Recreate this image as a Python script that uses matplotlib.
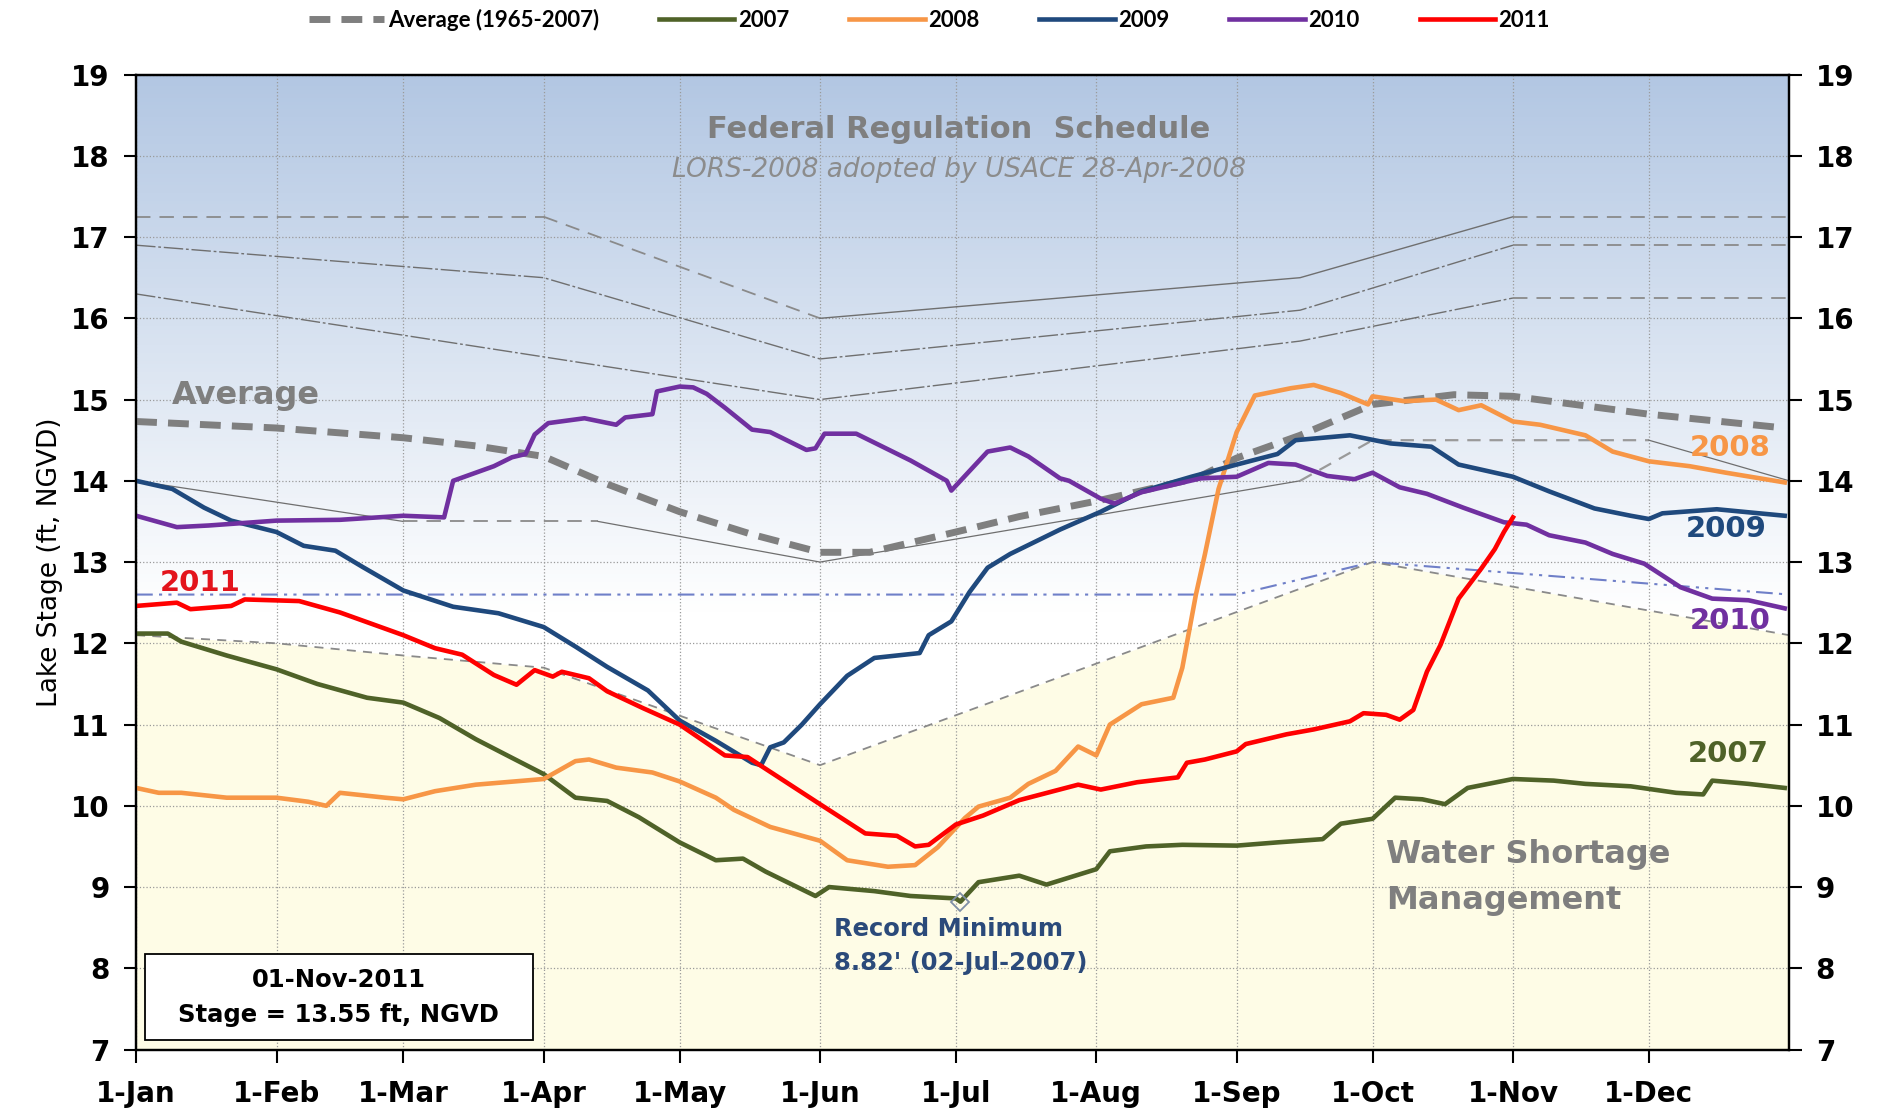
import numpy as np
import matplotlib
matplotlib.use("Agg")
import matplotlib.pyplot as plt
from matplotlib.patches import Rectangle

plt.rcParams['font.family'] = ['DejaVu Sans']

# day of year (0 = 1-Jan) and lake stage (ft, NGVD)
month_days = [0, 31, 59, 90, 120, 151, 181, 212, 243, 273, 304, 334]
month_labels = ["1-Jan", "1-Feb", "1-Mar", "1-Apr", "1-May", "1-Jun",
                "1-Jul", "1-Aug", "1-Sep", "1-Oct", "1-Nov", "1-Dec"]

avg_days = [0, 31, 59, 75, 90, 104, 120, 136, 151, 162, 181, 195, 212, 234, 243, 257, 273, 291, 304, 334, 364]
avg_vals = [14.73, 14.65, 14.53, 14.43, 14.3, 13.96, 13.62, 13.34, 13.12, 13.12, 13.37, 13.56, 13.75, 14.03,
            14.28, 14.56, 14.94, 15.06, 15.04, 14.82, 14.65]

d2007 = [0, 7, 10, 20, 31, 40, 51, 59, 67, 75, 83, 90, 97, 104, 111, 120, 128, 134, 139, 150, 153, 163, 171,
         181, 182, 186, 195, 201, 212, 215, 223, 231, 243, 252, 262, 266, 273, 278, 284, 289, 294, 304, 313,
         320, 330, 340, 346, 348, 356, 364]
v2007 = [12.12, 12.12, 12.02, 11.85, 11.68, 11.5, 11.33, 11.27, 11.08, 10.82, 10.59, 10.39, 10.1, 10.06, 9.86,
         9.55, 9.33, 9.35, 9.19, 8.89, 9.0, 8.95, 8.89, 8.86, 8.82, 9.06, 9.14, 9.03, 9.22, 9.44, 9.5, 9.52,
         9.51, 9.55, 9.59, 9.78, 9.84, 10.1, 10.08, 10.02, 10.22, 10.33, 10.31, 10.27, 10.24, 10.16, 10.14,
         10.31, 10.27, 10.22]

d2008 = [0, 5, 10, 20, 31, 38, 42, 45, 55, 59, 66, 75, 90, 97, 100, 106, 114, 120, 128, 132, 140, 151, 157,
         166, 172, 177, 183, 186, 193, 197, 203, 208, 212, 215, 222, 229, 231, 234, 236, 239, 243, 247, 255,
         260, 266, 272, 273, 280, 287, 292, 297, 304, 310, 320, 326, 334, 343, 351, 364]
v2008 = [10.22, 10.16, 10.16, 10.1, 10.1, 10.05, 10.0, 10.16, 10.1, 10.08, 10.18, 10.26, 10.33, 10.55, 10.57,
         10.47, 10.41, 10.3, 10.1, 9.95, 9.74, 9.57, 9.33, 9.25, 9.27, 9.49, 9.85, 9.99, 10.1, 10.27, 10.43,
         10.73, 10.62, 11.0, 11.25, 11.33, 11.7, 12.6, 13.1, 13.9, 14.6, 15.05, 15.14, 15.18, 15.08, 14.94,
         15.04, 14.98, 15.0, 14.87, 14.93, 14.73, 14.69, 14.56, 14.36, 14.24, 14.18, 14.1, 13.98]

d2009 = [0, 8, 15, 21, 31, 37, 44, 50, 59, 70, 80, 90, 97, 104, 113, 120, 128, 136, 138, 140, 143, 147, 151,
         157, 163, 173, 175, 180, 184, 188, 193, 204, 213, 222, 233, 243, 252, 256, 268, 277, 286, 292, 304,
         312, 322, 330, 334, 337, 349, 364]
v2009 = [14.0, 13.9, 13.67, 13.51, 13.37, 13.2, 13.14, 12.94, 12.65, 12.45, 12.37, 12.2, 11.96, 11.71, 11.42,
         11.05, 10.8, 10.53, 10.5, 10.72, 10.78, 11.0, 11.25, 11.6, 11.82, 11.88, 12.1, 12.27, 12.63, 12.93,
         13.1, 13.4, 13.62, 13.87, 14.05, 14.2, 14.33, 14.5, 14.56, 14.46, 14.42, 14.2, 14.05, 13.87, 13.66,
         13.57, 13.53, 13.6, 13.65, 13.57]

d2010 = [0, 9, 16, 31, 45, 59, 68, 70, 79, 83, 86, 88, 91, 99, 106, 108, 114, 115, 120, 123, 126, 130, 136,
         140, 148, 150, 152, 159, 171, 179, 180, 188, 193, 197, 204, 206, 213, 216, 222, 235, 243, 250, 256,
         263, 269, 273, 279, 285, 293, 302, 307, 312, 320, 326, 333, 341, 348, 356, 364]
v2010 = [13.57, 13.43, 13.45, 13.51, 13.52, 13.57, 13.55, 14.0, 14.18, 14.29, 14.33, 14.57, 14.71, 14.77,
         14.69, 14.78, 14.82, 15.1, 15.16, 15.15, 15.07, 14.9, 14.63, 14.6, 14.38, 14.4, 14.58, 14.58, 14.25,
         14.0, 13.88, 14.36, 14.41, 14.3, 14.03, 14.0, 13.78, 13.72, 13.86, 14.03, 14.05, 14.22, 14.2, 14.06,
         14.02, 14.1, 13.92, 13.84, 13.67, 13.49, 13.46, 13.33, 13.24, 13.1, 12.98, 12.69, 12.55, 12.53, 12.43]

d2011 = [0, 9, 12, 21, 24, 36, 45, 59, 66, 72, 79, 84, 88, 92, 94, 100, 104, 112, 120, 130, 135, 151, 161,
         168, 172, 175, 181, 187, 195, 208, 213, 221, 230, 232, 236, 243, 245, 254, 260, 268, 271, 276, 279,
         282, 285, 288, 292, 297, 300, 302, 304]
v2011 = [12.46, 12.5, 12.42, 12.46, 12.54, 12.52, 12.38, 12.1, 11.94, 11.86, 11.61, 11.49, 11.67, 11.59, 11.65,
         11.57, 11.41, 11.2, 11.0, 10.62, 10.6, 10.02, 9.66, 9.63, 9.5, 9.52, 9.77, 9.88, 10.07, 10.26, 10.2,
         10.29, 10.35, 10.53, 10.57, 10.67, 10.76, 10.88, 10.94, 11.04, 11.14, 11.12, 11.06, 11.18, 11.65,
         11.98, 12.55, 12.92, 13.16, 13.37, 13.55]

# LORS-2008 regulation schedule lines
top_days = [0, 90, 151, 257, 304, 365]
top_vals = [17.25, 17.25, 16.0, 16.5, 17.25, 17.25]
high_days = [0, 90, 151, 257, 304, 365]
high_vals = [16.9, 16.5, 15.5, 16.1, 16.9, 16.9]
inter_days = [0, 151, 257, 304, 365]
inter_vals = [16.3, 15.0, 15.72, 16.25, 16.25]
low_days = [0, 59, 102, 151, 257, 273, 334, 365]
low_vals = [14.0, 13.5, 13.5, 13.0, 14.0, 14.5, 14.5, 14.0]
base_days = [0, 243, 273, 365]
base_vals = [12.6, 12.6, 13.0, 12.6]
short_days = [0, 31, 59, 90, 151, 273, 365]
short_vals = [12.1, 12.0, 11.85, 11.7, 10.5, 13.0, 12.1]

fig = plt.figure(figsize=(18.85, 11.13), dpi=100)
ax = fig.add_axes([0.0722, 0.057, 0.877, 0.876])

# background: blue gradient above, pale yellow below the water shortage line
grad = np.linspace(0, 1, 256).reshape(-1, 1)
top_c = np.array([0.70, 0.78, 0.89])
cols = np.clip(1 - (1 - top_c) * np.clip((grad - 0.45) / 0.55, 0, 1), 0, 1)
img = cols[:, np.newaxis, :]
ax.imshow(img, extent=[0, 365, 7, 19], origin='lower', aspect='auto', zorder=0)
ax.fill_between(short_days, 7, short_vals, color='#FEFCE6', lw=0, zorder=0.5)

ax.set_xlim(0, 365)
ax.set_ylim(7, 19)
ax.set_xticks(month_days)
ax.set_xticklabels(month_labels)
ax.set_yticks(range(7, 20))
ax.grid(True, ls=':', color='#9A9A9A', lw=0.9)

sc = '#8A8A8A'
ax.plot(top_days[:2], top_vals[:2], color=sc, lw=1.3, ls=(0, (8, 5)))
ax.plot(top_days[1:3], top_vals[1:3], color=sc, lw=1.3, ls=(0, (8, 5)))
ax.plot(top_days[2:5], top_vals[2:5], color='#6F6F6F', lw=1.0)
ax.plot(top_days[4:], top_vals[4:], color=sc, lw=1.3, ls=(0, (8, 5)))
ax.plot(high_days[:5], high_vals[:5], color='#6F6F6F', lw=1.0, ls=(0, (14, 2, 2, 2)))
ax.plot(high_days[4:], high_vals[4:], color=sc, lw=1.3, ls=(0, (8, 5)))
ax.plot(inter_days[:4], inter_vals[:4], color='#6F6F6F', lw=1.0, ls=(0, (14, 2, 2, 2)))
ax.plot(inter_days[3:], inter_vals[3:], color=sc, lw=1.3, ls=(0, (8, 5)))
ax.plot(low_days[:2], low_vals[:2], color='#6F6F6F', lw=0.9)
ax.plot(low_days[1:3], low_vals[1:3], color=sc, lw=1.3, ls=(0, (8, 5)))
ax.plot(low_days[2:5], low_vals[2:5], color='#6F6F6F', lw=0.9)
ax.plot(low_days[4:7], low_vals[4:7], color='#9A9A9A', lw=1.6, ls=(0, (6, 4)))
ax.plot(low_days[6:], low_vals[6:], color='#6F6F6F', lw=0.9)
ax.plot(base_days, base_vals, color='#6F7FC8', lw=1.5, ls=(0, (8, 3, 1.5, 3, 1.5, 3)))
ax.plot(short_days, short_vals, color='#8A8A8A', lw=1.3, ls=(0, (5, 4)))

h_avg, = ax.plot(avg_days, avg_vals, color='#7F7F7F', lw=5, ls=(0, (3, 1.6)), label='Average (1965-2007)', zorder=3)
h07, = ax.plot(d2007, v2007, color='#4F6228', lw=3.3, label='2007', zorder=4)
h08, = ax.plot(d2008, v2008, color='#F79646', lw=3.3, label='2008', zorder=4)
h09, = ax.plot(d2009, v2009, color='#1F497D', lw=3.3, label='2009', zorder=4)
h10, = ax.plot(d2010, v2010, color='#7030A0', lw=3.3, label='2010', zorder=4)
h11, = ax.plot(d2011, v2011, color='#FF0000', lw=3.3, label='2011', zorder=5)

ax.plot([182], [8.82], marker='D', ms=9, mfc='none', mec='#7F8FA6', mew=1.3, zorder=6)

for s in ax.spines.values():
    s.set_linewidth(1.6)
    s.set_color('black')
ax.tick_params(axis='both', direction='out', length=9, width=1.5, labelsize=20)
ax.tick_params(axis='x', pad=13)
ax.tick_params(axis='y', pad=10)
for t in ax.get_xticklabels() + ax.get_yticklabels():
    t.set_fontweight('bold')

ax2 = ax.twinx()
ax2.set_ylim(7, 19)
ax2.set_yticks(range(7, 20))
ax2.tick_params(axis='y', direction='out', length=9, width=1.5, labelsize=20, pad=10)
for t in ax2.get_yticklabels():
    t.set_fontweight('bold')
for s in ax2.spines.values():
    s.set_linewidth(1.6)

ax.set_ylabel('Lake Stage (ft, NGVD)', fontsize=19, labelpad=6)

ax.text(181.6, 18.32, 'Federal Regulation  Schedule', ha='center', va='center', fontsize=22,
        fontweight='bold', color='#7F7F7F', zorder=7)
ax.text(181.6, 17.82, 'LORS-2008 adopted by USACE 28-Apr-2008', ha='center', va='center', fontsize=19,
        style='italic', color='#8C8C8C', zorder=7)
ax.text(8, 15.05, 'Average', ha='left', va='center', fontsize=23, fontweight='bold', color='#7F7F7F', zorder=7)
ax.text(5.3, 12.74, '2011', ha='left', va='center', fontsize=21, fontweight='bold', color='#E3141C', zorder=7)
ax.text(352, 14.4, '2008', ha='center', va='center', fontsize=21, fontweight='bold', color='#F79646', zorder=7)
ax.text(351, 13.41, '2009', ha='center', va='center', fontsize=21, fontweight='bold', color='#1F497D', zorder=7)
ax.text(352, 12.27, '2010', ha='center', va='center', fontsize=21, fontweight='bold', color='#7030A0', zorder=7)
ax.text(351.5, 10.64, '2007', ha='center', va='center', fontsize=21, fontweight='bold', color='#4F6228', zorder=7)
ax.text(276, 9.4, 'Water Shortage', ha='left', va='center', fontsize=23, fontweight='bold', color='#7F7F7F', zorder=7)
ax.text(276, 8.83, 'Management', ha='left', va='center', fontsize=23, fontweight='bold', color='#7F7F7F', zorder=7)
ax.text(154, 8.48, 'Record Minimum', ha='left', va='center', fontsize=17.5, fontweight='bold', color='#2B4A7A', zorder=7)
ax.text(154, 8.07, "8.82' (02-Jul-2007)", ha='left', va='center', fontsize=17.5, fontweight='bold', color='#2B4A7A', zorder=7)

ax.add_patch(Rectangle((1.9, 7.12), 85.7, 1.05, facecolor='white', edgecolor='black', lw=1.3, zorder=7))
ax.text(44.7, 7.86, '01-Nov-2011', ha='center', va='center', fontsize=17.5, fontweight='bold', zorder=8)
ax.text(44.7, 7.42, 'Stage = 13.55 ft, NGVD', ha='center', va='center', fontsize=17.5, fontweight='bold', zorder=8)

fig.legend(handles=[h_avg, h07, h08, h09, h10, h11], loc='center', bbox_to_anchor=(0.493, 0.982),
           ncol=6, frameon=False, prop={'family': 'Lato', 'size': 16, 'weight': 'bold'},
           handlelength=3.4, handletextpad=0.15, columnspacing=2.7)

fig.savefig('out.png', dpi=100)
